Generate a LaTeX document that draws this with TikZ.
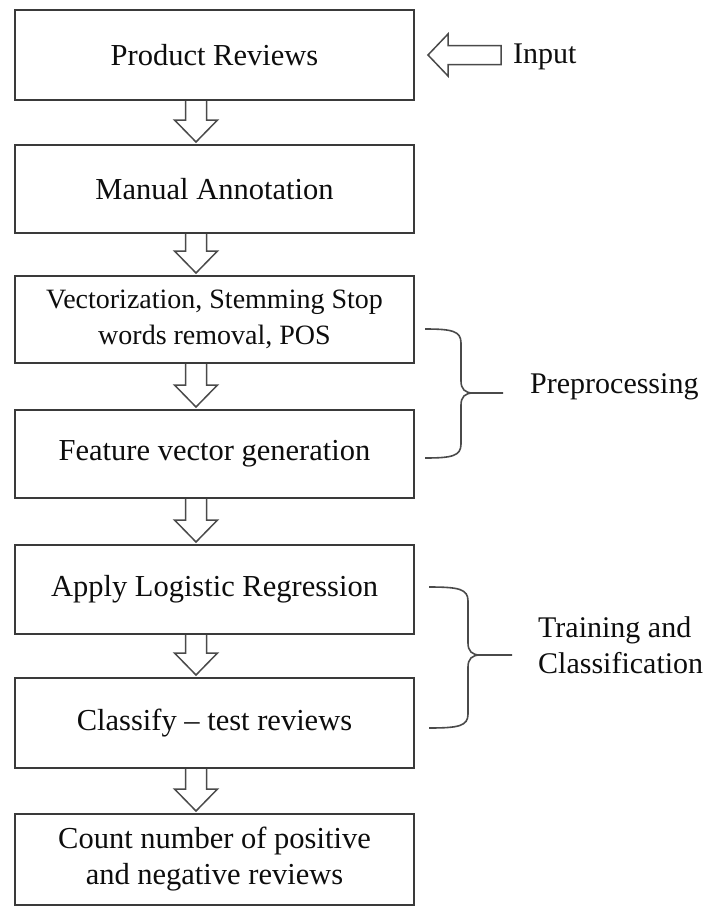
\documentclass[tikz,border=0pt]{standalone}
\usepackage{fontspec}
\setmainfont{Liberation Serif}
\usetikzlibrary{calc}
\definecolor{edgec}{HTML}{3A3A3A}
\definecolor{arrc}{HTML}{4A4A4A}
\newcommand\flowarrow[2]{%
  \draw[blk] ($(ax |- #1.south)+(-10.5,0)$) -- ($(ax |- #2.north)+(-10.5,-24)$)
    -- ($(ax |- #2.north)+(-21.5,-24)$) -- ($(ax |- #2.north)+(0,-2)$)
    -- ($(ax |- #2.north)+(21.5,-24)$) -- ($(ax |- #2.north)+(10.5,-24)$)
    -- ($(ax |- #1.south)+(10.5,0)$);}
\begin{document}
\begin{tikzpicture}[x=1pt,y=-1pt,
  box/.style={draw=edgec, line width=2pt, minimum width=399pt, inner sep=0pt,
    align=center, font=\fontsize{30.5}{36}\selectfont, text=black!95},
  blk/.style={draw=arrc, line width=1.5pt, line join=miter},
  bracestyle/.style={draw=arrc, line width=1.6pt},
  lbl/.style={inner sep=0pt, font=\fontsize{30}{36}\selectfont, align=left, text=black!95}]
\useasboundingbox (0,0) rectangle (705,908);
\coordinate (ax) at (196,0);
% boxes
\node[box, minimum height=90pt] (b1) at (214.5,55) {Product Reviews};
\node[box, minimum height=88pt] (b2) at (214.5,189) {Manual Annotation};
\node[box, minimum height=87pt, font=\fontsize{28}{36}\selectfont] (b3) at (214.5,319.5) {Vectorization, Stemming Stop\\words removal, POS};
\node[box, minimum height=88pt] (b4) at (214.5,454) {Feature vector generation};
\node[box, minimum height=89pt] (b5) at (214.5,589.5) {Apply Logistic Regression};
\node[box, minimum height=90pt] (b6) at (214.5,723) {Classify -- test reviews};
\node[box, minimum height=91pt] (b7) at (214.5,859.5) {Count number of positive\\and negative reviews};
% flow arrows
\flowarrow{b1}{b2}
\flowarrow{b2}{b3}
\flowarrow{b3}{b4}
\flowarrow{b4}{b5}
\flowarrow{b5}{b6}
\flowarrow{b6}{b7}
% input
\node[lbl, anchor=base west] (inp) at (513,63) {Input};
\draw[blk] ($(inp.west |- b1.east)+(-12,-9.5)$) -- ($(b1.east)+(33,-9.5)$)
  -- ($(b1.east)+(33,-21)$) -- ($(b1.east)+(13,0)$) -- ($(b1.east)+(33,21)$)
  -- ($(b1.east)+(33,9.5)$) -- ($(inp.west |- b1.east)+(-12,9.5)$) -- cycle;
% braces
\node[lbl, anchor=base west] (pre) at (530,393) {Preprocessing};
\draw[bracestyle] (425,329) .. controls (452,329) and (461,331) .. (461,343) -- (461,381)
  .. controls (461,389) and (465,393) .. (473,393) -- (503,393);
\draw[bracestyle] (473,393) .. controls (465,393) and (461,397) .. (461,405) -- (461,444)
  .. controls (461,456) and (452,458) .. (425,458);
\node[lbl, anchor=west] (trn) at (538,645) {Training and\\Classification};
\draw[bracestyle] (429,587) .. controls (459,587) and (468,589) .. (468,601) -- (468,643)
  .. controls (468,651) and (472,655) .. (480,655) -- (512,655);
\draw[bracestyle] (480,655) .. controls (472,655) and (468,659) .. (468,667) -- (468,714)
  .. controls (468,726) and (459,728) .. (429,728);
\end{tikzpicture}
\end{document}
